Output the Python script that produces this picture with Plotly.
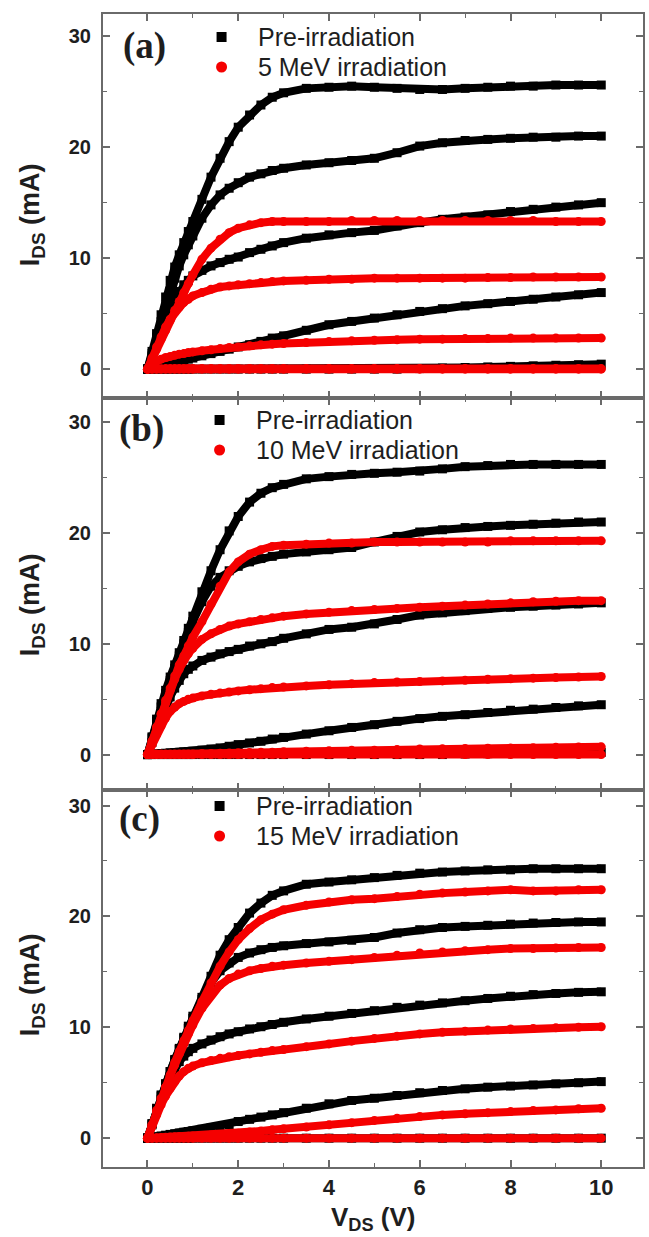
import plotly.graph_objects as go

# ---------------- data ----------------
VDS = [0, 0.1, 0.2, 0.3, 0.4, 0.5, 0.6, 0.7, 0.8, 0.9, 1.0, 1.2, 1.4, 1.6, 1.8, 2.0,
       2.25, 2.5, 2.75, 3.0, 3.5, 4.0, 4.5, 5.0, 5.5, 6.0, 6.5, 7.0, 7.5, 8.0, 8.5,
       9.0, 9.5, 10.0]

X_TICKS = [0, 2, 4, 6, 8, 10]
X_MINOR = [1, 3, 5, 7, 9]
Y_TICKS = [0, 10, 20, 30]
Y_MINOR = [5, 15, 25]

PANEL_LABELS = ["(a)", "(b)", "(c)"]
PRE_NAME = "Pre-irradiation"
IRR_NAMES = ["5 MeV irradiation", "10 MeV irradiation", "15 MeV irradiation"]

# panel (a)
A_PRE_1 = [0, 1.6, 3.2, 4.9, 6.5, 8.0, 9.2, 10.3, 11.4, 12.4, 13.3, 15.3, 17.3, 19.0, 20.5, 21.8, 22.9, 23.8, 24.5, 24.9, 25.3, 25.4, 25.5, 25.4, 25.3, 25.2, 25.2, 25.3, 25.4, 25.5, 25.5, 25.6, 25.6, 25.6]
A_PRE_2 = [0, 1.4, 2.9, 4.3, 5.7, 7.0, 8.2, 9.3, 10.3, 11.2, 12.0, 13.6, 14.8, 15.7, 16.3, 16.8, 17.3, 17.6, 17.9, 18.1, 18.4, 18.6, 18.8, 19.0, 19.5, 20.1, 20.4, 20.6, 20.7, 20.8, 20.9, 20.9, 21.0, 21.0]
A_PRE_3 = [0, 1.2, 2.4, 3.6, 4.7, 5.6, 6.4, 7.0, 7.6, 8.0, 8.4, 8.9, 9.3, 9.6, 9.9, 10.1, 10.5, 10.8, 11.1, 11.4, 11.8, 12.1, 12.3, 12.5, 12.9, 13.2, 13.5, 13.7, 13.9, 14.2, 14.4, 14.6, 14.8, 15.0]
A_PRE_4 = [0, 0.1, 0.2, 0.3, 0.4, 0.5, 0.6, 0.7, 0.8, 0.9, 1.0, 1.2, 1.4, 1.6, 1.8, 2.0, 2.2, 2.5, 2.8, 3.0, 3.5, 4.0, 4.3, 4.6, 4.9, 5.2, 5.45, 5.7, 5.9, 6.1, 6.3, 6.5, 6.7, 6.9]
A_PRE_5 = [0, 0, 0, 0, 0, 0, 0, 0, 0, 0, 0, 0, 0, 0, 0, 0, 0, 0, 0, 0, 0, 0, 0, 0, 0, 0.05, 0.1, 0.15, 0.2, 0.25, 0.3, 0.35, 0.4, 0.45]
A_IRR_1 = [0, 0.9, 1.8, 2.7, 3.5, 4.4, 5.3, 6.1, 6.9, 7.7, 8.5, 9.9, 10.9, 11.7, 12.3, 12.7, 13.0, 13.2, 13.3, 13.3, 13.3, 13.3, 13.4, 13.4, 13.4, 13.4, 13.4, 13.4, 13.4, 13.4, 13.4, 13.3, 13.3, 13.3]
A_IRR_2 = [0, 1.0, 2.0, 2.9, 3.8, 4.5, 5.1, 5.6, 6.0, 6.3, 6.6, 6.9, 7.2, 7.4, 7.5, 7.6, 7.7, 7.8, 7.9, 7.95, 8.0, 8.1, 8.1, 8.2, 8.2, 8.2, 8.2, 8.2, 8.25, 8.25, 8.3, 8.3, 8.3, 8.3]
A_IRR_3 = [0, 0.4, 0.7, 0.9, 1.05, 1.15, 1.25, 1.35, 1.4, 1.5, 1.55, 1.65, 1.75, 1.85, 1.95, 2.0, 2.1, 2.2, 2.25, 2.3, 2.4, 2.5, 2.55, 2.6, 2.65, 2.7, 2.7, 2.75, 2.75, 2.8, 2.8, 2.8, 2.8, 2.8]
A_IRR_4 = [0, 0.02, 0.03, 0.04, 0.05, 0.05, 0.05, 0.05, 0.05, 0.05, 0.05, 0.05, 0.05, 0.05, 0.05, 0.05, 0.05, 0.05, 0.05, 0.05, 0.05, 0.05, 0.05, 0.05, 0.05, 0.05, 0.05, 0.05, 0.05, 0.05, 0.05, 0.05, 0.05, 0.05]
A_IRR_5 = [0, 0, 0, 0, 0, 0, 0, 0, 0, 0, 0, 0, 0, 0, 0, 0, 0, 0, 0, 0, 0, 0, 0, 0, 0, 0, 0, 0, 0, 0, 0, 0, 0, 0]

# panel (b)
B_PRE_1 = [0, 1.6, 3.2, 4.6, 5.8, 7.0, 8.1, 9.2, 10.3, 11.4, 12.5, 14.7, 16.6, 18.5, 20.2, 21.5, 22.8, 23.6, 24.1, 24.4, 24.9, 25.1, 25.3, 25.4, 25.5, 25.6, 25.8, 26.0, 26.1, 26.2, 26.2, 26.2, 26.2, 26.2]
B_PRE_2 = [0, 1.5, 3.0, 4.3, 5.5, 6.7, 7.8, 8.9, 10.0, 11.0, 12.0, 13.8, 15.2, 16.0, 16.6, 17.0, 17.4, 17.7, 17.9, 18.1, 18.3, 18.5, 18.7, 19.2, 19.7, 20.1, 20.3, 20.5, 20.6, 20.7, 20.8, 20.9, 21.0, 21.0]
B_PRE_3 = [0, 1.1, 2.2, 3.3, 4.3, 5.2, 6.0, 6.7, 7.3, 7.7, 8.0, 8.5, 8.8, 9.1, 9.3, 9.5, 9.8, 10.0, 10.2, 10.5, 10.9, 11.3, 11.5, 11.8, 12.2, 12.6, 12.8, 13.0, 13.2, 13.3, 13.4, 13.5, 13.6, 13.7]
B_PRE_4 = [0, 0.03, 0.06, 0.09, 0.12, 0.15, 0.18, 0.21, 0.24, 0.27, 0.3, 0.4, 0.5, 0.6, 0.75, 0.9, 1.05, 1.2, 1.4, 1.55, 1.85, 2.15, 2.45, 2.7, 3.0, 3.25, 3.45, 3.6, 3.8, 4.0, 4.1, 4.25, 4.4, 4.5]
B_PRE_5 = [0, 0, 0, 0, 0, 0, 0, 0, 0, 0, 0, 0, 0, 0, 0, 0, 0, 0, 0, 0, 0, 0, 0, 0, 0, 0, 0, 0.05, 0.08, 0.1, 0.12, 0.15, 0.18, 0.2]
B_IRR_1 = [0, 1.2, 2.5, 3.7, 4.9, 6.0, 7.1, 8.1, 8.9, 9.8, 10.6, 12.0, 13.6, 15.2, 16.5, 17.4, 18.1, 18.5, 18.8, 18.9, 19.0, 19.1, 19.1, 19.2, 19.2, 19.2, 19.2, 19.2, 19.2, 19.3, 19.3, 19.3, 19.3, 19.3]
B_IRR_2 = [0, 1.2, 2.4, 3.6, 4.7, 5.8, 6.8, 7.7, 8.5, 9.1, 9.6, 10.4, 10.9, 11.3, 11.6, 11.8, 12.0, 12.2, 12.35, 12.5, 12.7, 12.85, 13.0, 13.1, 13.2, 13.3, 13.4, 13.5, 13.6, 13.7, 13.8, 13.85, 13.9, 13.9]
B_IRR_3 = [0, 0.9, 1.8, 2.6, 3.3, 3.9, 4.3, 4.6, 4.8, 5.0, 5.1, 5.3, 5.45, 5.55, 5.65, 5.75, 5.85, 5.95, 6.05, 6.1, 6.2, 6.3, 6.4, 6.5, 6.55, 6.6, 6.65, 6.7, 6.8, 6.85, 6.9, 6.95, 7.0, 7.05]
B_IRR_4 = [0, 0.05, 0.05, 0.05, 0.05, 0.05, 0.05, 0.05, 0.05, 0.05, 0.05, 0.1, 0.1, 0.12, 0.14, 0.16, 0.18, 0.2, 0.22, 0.25, 0.3, 0.35, 0.38, 0.4, 0.45, 0.5, 0.52, 0.55, 0.58, 0.6, 0.62, 0.65, 0.68, 0.7]
B_IRR_5 = [0, 0, 0, 0, 0, 0, 0, 0, 0, 0, 0, 0, 0, 0, 0, 0, 0, 0, 0, 0, 0, 0, 0, 0, 0, 0, 0, 0, 0, 0, 0, 0, 0, 0]

# panel (c)
C_PRE_1 = [0, 1.3, 2.7, 3.9, 4.9, 6.0, 7.1, 8.1, 9.1, 10.1, 11.0, 12.7, 14.6, 16.5, 17.9, 19.0, 20.3, 21.2, 21.9, 22.3, 22.9, 23.1, 23.3, 23.5, 23.7, 23.9, 24.0, 24.1, 24.2, 24.2, 24.3, 24.3, 24.3, 24.3]
C_PRE_2 = [0, 1.3, 2.6, 3.8, 4.9, 6.0, 7.0, 8.0, 9.0, 9.9, 10.8, 12.5, 14.0, 15.1, 15.8, 16.3, 16.7, 17.0, 17.2, 17.35, 17.55, 17.7, 17.85, 18.1, 18.5, 18.8, 19.0, 19.1, 19.2, 19.3, 19.4, 19.45, 19.5, 19.5]
C_PRE_3 = [0, 1.2, 2.4, 3.5, 4.5, 5.4, 6.2, 6.9, 7.4, 7.8, 8.1, 8.5, 8.85, 9.15, 9.4, 9.6, 9.85, 10.05, 10.25, 10.45, 10.75, 11.0, 11.25, 11.5, 11.8, 12.0, 12.2, 12.4, 12.6, 12.8, 12.95, 13.05, 13.15, 13.2]
C_PRE_4 = [0, 0.07, 0.14, 0.2, 0.27, 0.34, 0.4, 0.47, 0.54, 0.6, 0.67, 0.8, 0.92, 1.05, 1.2, 1.5, 1.7, 1.9, 2.1, 2.3, 2.7, 3.1, 3.4, 3.6, 3.85, 4.1, 4.3, 4.45, 4.6, 4.7, 4.8, 4.9, 5.0, 5.1]
C_PRE_5 = [0, 0, 0, 0, 0, 0, 0, 0, 0, 0, 0, 0, 0, 0, 0, 0, 0, 0, 0, 0, 0, 0, 0, 0, 0, 0, 0, 0, 0, 0, 0, 0, 0, 0]
C_IRR_1 = [0, 1.2, 2.5, 3.6, 4.6, 5.7, 6.8, 7.8, 8.8, 9.7, 10.6, 12.3, 14.0, 15.5, 16.8, 17.9, 18.9, 19.7, 20.2, 20.6, 21.0, 21.3, 21.5, 21.6, 21.8, 22.0, 22.1, 22.2, 22.3, 22.4, 22.3, 22.3, 22.4, 22.4]
C_IRR_2 = [0, 1.2, 2.4, 3.5, 4.6, 5.6, 6.6, 7.6, 8.5, 9.4, 10.2, 11.7, 12.9, 13.8, 14.4, 14.8, 15.1, 15.3, 15.5, 15.6, 15.8, 15.95, 16.1, 16.3, 16.5, 16.7, 16.8, 16.9, 17.0, 17.1, 17.1, 17.15, 17.2, 17.2]
C_IRR_3 = [0, 1.1, 2.1, 3.0, 3.8, 4.5, 5.1, 5.6, 6.0, 6.3, 6.5, 6.8, 7.0, 7.2, 7.35, 7.45, 7.6, 7.75, 7.9, 8.0, 8.25, 8.5, 8.75, 9.0, 9.2, 9.4, 9.55, 9.65, 9.75, 9.85, 9.9, 9.95, 10.0, 10.05]
C_IRR_4 = [0, 0.02, 0.04, 0.06, 0.08, 0.1, 0.12, 0.14, 0.16, 0.18, 0.2, 0.24, 0.28, 0.32, 0.38, 0.45, 0.55, 0.65, 0.75, 0.85, 1.0, 1.2, 1.4, 1.6, 1.8, 1.95, 2.1, 2.2, 2.3, 2.4, 2.5, 2.55, 2.65, 2.7]
C_IRR_5 = [0, 0, 0, 0, 0, 0, 0, 0, 0, 0, 0, 0, 0, 0, 0, 0, 0, 0, 0, 0, 0, 0, 0, 0, 0, 0, 0, 0, 0, 0, 0, 0, 0, 0]

PANELS = [
    ([A_PRE_1, A_PRE_2, A_PRE_3, A_PRE_4, A_PRE_5], [A_IRR_1, A_IRR_2, A_IRR_3, A_IRR_4, A_IRR_5]),
    ([B_PRE_1, B_PRE_2, B_PRE_3, B_PRE_4, B_PRE_5], [B_IRR_1, B_IRR_2, B_IRR_3, B_IRR_4, B_IRR_5]),
    ([C_PRE_1, C_PRE_2, C_PRE_3, C_PRE_4, C_PRE_5], [C_IRR_1, C_IRR_2, C_IRR_3, C_IRR_4, C_IRR_5]),
]
Y_RANGES = [[-2.6, 32.0], [-3.2, 32.2], [-2.6, 31.4]]
X_RANGE = [-0.98, 10.92]

# ---------------- layout geometry (pixels) ----------------
W, H = 649, 1237
L, R, T, B = 103, 4, 14, 70
PW, PH = W - L - R, H - T - B
PANEL_PX = [(14, 398), (398, 790), (790, 1167)]


def px(x):
    return (x - L) / PW


def py(y):
    return (H - B - y) / PH


BLACK = "#000000"
RED = "#f50000"
AXC = "#6a6a6a"
TXT = "#1e1e1e"
SANS = "Liberation Sans, Arial, sans-serif"
SERIF = "Liberation Serif, Times New Roman, serif"

fig = go.Figure()

for i, (pre, irr) in enumerate(PANELS):
    xa = "x" if i == 0 else f"x{i+1}"
    ya = "y" if i == 0 else f"y{i+1}"
    for ys in pre:
        fig.add_trace(go.Scatter(
            x=VDS, y=ys, xaxis=xa, yaxis=ya, mode="lines+markers",
            line=dict(color=BLACK, width=8),
            marker=dict(symbol="square", size=9, color=BLACK),
            showlegend=False, cliponaxis=True))
    for ys in irr:
        fig.add_trace(go.Scatter(
            x=VDS, y=ys, xaxis=xa, yaxis=ya, mode="lines+markers",
            line=dict(color=RED, width=8),
            marker=dict(symbol="circle", size=9, color=RED),
            showlegend=False, cliponaxis=True))

layout = dict(
    width=W, height=H, paper_bgcolor="white", plot_bgcolor="white",
    margin=dict(l=L, r=R, t=T, b=B, pad=0), showlegend=False,
)

annotations = []
shapes = []
for i in range(3):
    top, bot = PANEL_PX[i]
    sfx = "" if i == 0 else str(i + 1)
    layout["xaxis" + sfx] = dict(
        domain=[0, 1], range=X_RANGE, anchor="y" + sfx,
        tickmode="array", tickvals=X_TICKS, ticks="inside", ticklen=7, tickwidth=1.5,
        tickcolor=AXC, showline=True, linecolor=AXC, linewidth=2, mirror="ticks",
        showgrid=False, zeroline=False,
        minor=dict(tickmode="array", tickvals=X_MINOR, ticks="inside", ticklen=4,
                   tickwidth=1.2, tickcolor=AXC),
        showticklabels=(i == 2),
        tickfont=dict(family=SANS, size=22, color=TXT, weight="bold"),
        ticklabelstandoff=0,
    )
    layout["yaxis" + sfx] = dict(
        domain=[py(bot), py(top)], range=Y_RANGES[i], anchor="x" + sfx,
        tickmode="array", tickvals=Y_TICKS, ticks="inside", ticklen=7, tickwidth=1.5,
        tickcolor=AXC, showline=True, linecolor=AXC, linewidth=2, mirror="ticks",
        showgrid=False, zeroline=False,
        minor=dict(tickmode="array", tickvals=Y_MINOR, ticks="inside", ticklen=4,
                   tickwidth=1.2, tickcolor=AXC),
        tickfont=dict(family=SANS, size=20, color=TXT, weight="bold"),
        ticklabelstandoff=6,
    )

    # panel label
    lab_x = [121, 117, 117][i]
    lab_y = [46, 429, 819][i]
    annotations.append(dict(
        text="<b>" + PANEL_LABELS[i] + "</b>", xref="paper", yref="paper",
        x=px(lab_x), y=py(lab_y), xanchor="left", yanchor="middle", showarrow=False,
        font=dict(family=SERIF, size=37, color=TXT)))

    # y title
    annotations.append(dict(
        text="<b>I<sub>DS</sub> (mA)</b>", xref="paper", yref="paper",
        x=px(32), y=py([215, 605, 985][i]), xanchor="center", yanchor="middle",
        textangle=-90, showarrow=False,
        font=dict(family=SANS, size=27, color=TXT)))

    # legend
    row1 = [37, 420, 806][i]
    row2 = row1 + 30
    mx = [222, 220, 220][i]
    tx = mx + 35
    shapes.append(dict(type="rect", xref="paper", yref="paper",
                       xsizemode="pixel", ysizemode="pixel",
                       xanchor=px(mx), yanchor=py(row1), x0=-5, x1=5, y0=-5, y1=5,
                       fillcolor=BLACK, line=dict(width=0)))
    shapes.append(dict(type="circle", xref="paper", yref="paper",
                       xsizemode="pixel", ysizemode="pixel",
                       xanchor=px(mx), yanchor=py(row2), x0=-5.5, x1=5.5, y0=-5.5, y1=5.5,
                       fillcolor=RED, line=dict(width=0)))
    annotations.append(dict(
        text=PRE_NAME, xref="paper", yref="paper", x=px(tx), y=py(row1),
        xanchor="left", yanchor="middle", showarrow=False,
        font=dict(family=SANS, size=25, color=TXT)))
    annotations.append(dict(
        text=IRR_NAMES[i], xref="paper", yref="paper", x=px(tx), y=py(row2),
        xanchor="left", yanchor="middle", showarrow=False,
        font=dict(family=SANS, size=25, color=TXT)))

# x title
annotations.append(dict(
    text="<b>V<sub>DS</sub> (V)</b>", xref="paper", yref="paper",
    x=px(374), y=py(1236), xanchor="center", yanchor="bottom", showarrow=False,
    borderpad=0, font=dict(family=SANS, size=26, color=TXT)))

layout["annotations"] = annotations
layout["shapes"] = shapes
fig.update_layout(**layout)

fig.write_html("out.html")
